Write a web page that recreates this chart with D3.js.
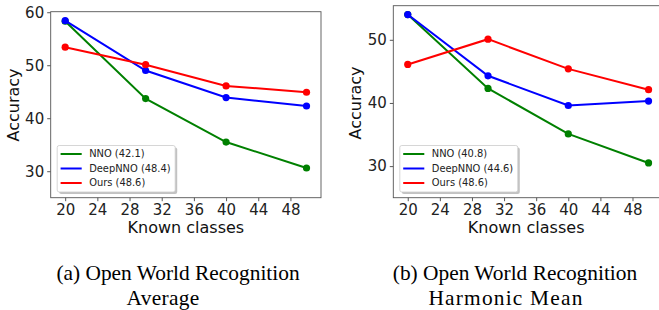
<!DOCTYPE html>
<html>
<head>
<meta charset="utf-8">
<script src="https://cdn.jsdelivr.net/npm/d3@7"></script>
<style>
  body { margin: 0; background: #fff; }
  svg { display: block; }
</style>
</head>
<body>
<div id="chart"></div>
<script>
// Known classes on the x axis
var knownClasses = [20, 30, 40, 50];
var xTicks = [20, 24, 28, 32, 36, 40, 44, 48];

// (a) Open World Recognition - Average
var avgNNO = [58.3, 43.7, 35.5, 30.6];
var avgDeepNNO = [58.4, 49.0, 43.9, 42.3];
var avgOurs = [53.4, 50.1, 46.1, 44.9];
var avgLabels = ["NNO (42.1)", "DeepNNO (48.4)", "Ours (48.6)"];
var avgYTicks = [30, 40, 50, 60];

// (b) Open World Recognition - Harmonic Mean
var hmNNO = [54.0, 42.3, 35.1, 30.5];
var hmDeepNNO = [54.0, 44.3, 39.6, 40.3];
var hmOurs = [46.1, 50.1, 45.4, 42.1];
var hmLabels = ["NNO (40.8)", "DeepNNO (44.6)", "Ours (48.6)"];
var hmYTicks = [30, 40, 50];

var seriesColors = ["green", "blue", "red"];

var svg = d3.select("#chart")
    .append("svg")
    .attr("width", 659)
    .attr("height", 310);

function panel(opts){
    var g = svg.append("g");

    var x = d3.scaleLinear()
        .domain([18.2, 51.8])
        .range([opts.left, opts.right]);
    var y = d3.scaleLinear()
        .domain(opts.yDomain)
        .range([opts.bottom, opts.top]);

    // X axis
    var xAxis = g.append("g")
        .attr("transform", "translate(0," + opts.bottom + ")")
        .call(d3.axisBottom(x).tickValues(xTicks).tickSize(3.5).tickPadding(3).tickSizeOuter(0));
    // Y axis
    var yAxis = g.append("g")
        .attr("transform", "translate(" + opts.left + ",0)")
        .call(d3.axisLeft(y).tickValues(opts.yTicks).tickSize(3.5).tickPadding(3).tickSizeOuter(0));

    [xAxis, yAxis].forEach(function(a){
        a.select(".domain").remove();
        a.selectAll("line").attr("stroke", "#444").attr("stroke-width", 0.9);
        a.selectAll("text")
            .attr("font-family", "DejaVu Sans")
            .attr("font-size", "15px")
            .attr("fill", "#222");
    });

    // Frame
    g.append("rect")
        .attr("x", opts.left)
        .attr("y", opts.top)
        .attr("width", opts.right - opts.left)
        .attr("height", opts.bottom - opts.top)
        .attr("fill", "none")
        .attr("stroke", "#555")
        .attr("stroke-width", 0.9);

    // Lines and markers
    var line = d3.line()
        .x(function(d, i){ return x(knownClasses[i]); })
        .y(function(d){ return y(d); });

    opts.series.forEach(function(s, k){
        g.append("path")
            .datum(s)
            .attr("d", line)
            .attr("fill", "none")
            .attr("stroke", seriesColors[k])
            .attr("stroke-width", 2);
        g.selectAll(".pt" + k)
            .data(s)
            .enter().append("circle")
            .attr("cx", function(d, i){ return x(knownClasses[i]); })
            .attr("cy", function(d){ return y(d); })
            .attr("r", 3.6)
            .attr("fill", seriesColors[k]);
    });

    // Legend with shadow
    var lx = opts.left + 6.5, ly = 145.5, lw = 118, lh = 46.5;
    g.append("rect")
        .attr("x", lx + 2).attr("y", ly + 2)
        .attr("width", lw).attr("height", lh)
        .attr("rx", 2)
        .attr("fill", "#999").attr("opacity", 0.6);
    g.append("rect")
        .attr("x", lx).attr("y", ly)
        .attr("width", lw).attr("height", lh)
        .attr("rx", 2)
        .attr("fill", "#fff")
        .attr("stroke", "#ccc")
        .attr("stroke-width", 0.8);

    opts.labels.forEach(function(lab, k){
        var ry = ly + 8.5 + k * 14.5;
        g.append("line")
            .attr("x1", lx + 3.4).attr("x2", lx + 24.5)
            .attr("y1", ry).attr("y2", ry)
            .attr("stroke", seriesColors[k])
            .attr("stroke-width", 2);
        g.append("text")
            .attr("x", lx + 32)
            .attr("y", ry)
            .attr("dy", "0.35em")
            .attr("font-family", "DejaVu Sans")
            .attr("font-size", "9.9px")
            .attr("fill", "#222")
            .text(lab);
    });

    // Axis labels
    g.append("text")
        .attr("x", (opts.left + Math.min(opts.right, 659)) / 2 + opts.xLabelShift)
        .attr("y", 233)
        .attr("text-anchor", "middle")
        .attr("font-family", "DejaVu Sans")
        .attr("font-size", "16px")
        .attr("fill", "#111")
        .text("Known classes");

    g.append("text")
        .attr("transform", "translate(" + opts.yLabelX + "," + opts.yLabelY + ") rotate(-90)")
        .attr("text-anchor", "middle")
        .attr("font-family", "DejaVu Sans")
        .attr("font-size", "16px")
        .attr("fill", "#111")
        .text("Accuracy");

    // Caption
    g.append("text")
        .attr("x", opts.cap1X).attr("y", 280)
        .attr("text-anchor", "middle")
        .attr("font-family", "Liberation Serif")
        .attr("font-size", "21.4px")
        .attr("fill", "#000")
        .text(opts.cap1);
    g.append("text")
        .attr("x", opts.cap2X).attr("y", 305)
        .attr("text-anchor", "middle")
        .attr("font-family", "Liberation Serif")
        .attr("font-size", "21.4px")
        .attr("letter-spacing", opts.cap2Spacing)
        .attr("fill", "#000")
        .text(opts.cap2);
}

panel({
    left: 50.7, right: 321, top: 11.7, bottom: 197.7,
    yDomain: [25, 60.1], yTicks: avgYTicks,
    series: [avgNNO, avgDeepNNO, avgOurs], labels: avgLabels,
    xLabelShift: 0, yLabelX: 19, yLabelY: 105,
    cap1: "(a) Open World Recognition", cap1X: 178,
    cap2: "Average", cap2X: 163, cap2Spacing: "0.3px"
});

panel({
    left: 393.3, right: 663, top: 5.7, bottom: 197.7,
    yDomain: [25, 55.4], yTicks: hmYTicks,
    series: [hmNNO, hmDeepNNO, hmOurs], labels: hmLabels,
    xLabelShift: 0, yLabelX: 361, yLabelY: 103,
    cap1: "(b) Open World Recognition", cap1X: 515,
    cap2: "Harmonic Mean", cap2X: 506, cap2Spacing: "1.2px"
});
</script>
</body>
</html>
